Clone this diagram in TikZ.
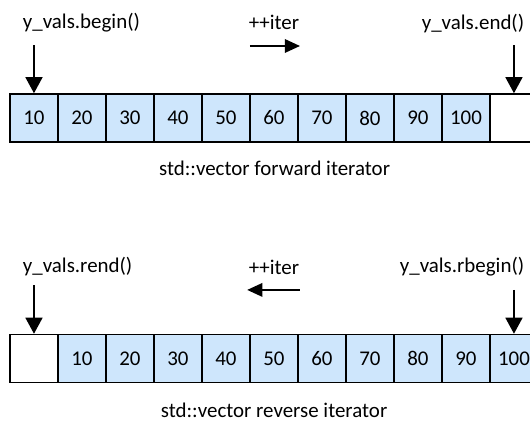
\documentclass[tikz,border=0pt]{standalone}
\usepackage{fontspec}
\setmainfont{Carlito}
\usetikzlibrary{arrows.meta}
\definecolor{cellblue}{RGB}{206,230,252}
\begin{document}
\begin{tikzpicture}[->,>={Triangle[width=10pt,length=9.5pt]},line width=1.1pt,
    font=\fontsize{12.4}{15}\selectfont,
    cell/.style={draw,fill=cellblue,minimum size=1cm,inner sep=0pt,line width=0.9pt},
    hole/.style={cell,fill=white},
    txt/.style={inner sep=0pt},
    inc/.style={-{Triangle[width=8pt,length=9pt]}}]
      \clip (0,0) rectangle (11.042,-8.771);
      % forward
      \node[cell] (f0) at (0.708,-2.458) {10};
      \node[cell] (f1) at (1.708,-2.458) {20};
      \node[cell] (f2) at (2.708,-2.458) {30};
      \node[cell] (f3) at (3.708,-2.458) {40};
      \node[cell] (f4) at (4.708,-2.458) {50};
      \node[cell] (f5) at (5.708,-2.458) {60};
      \node[cell] (f6) at (6.708,-2.458) {70};
      \node[cell] (f7) at (7.708,-2.458) {80};
      \node[cell] (f8) at (8.708,-2.458) {90};
      \node[cell] (f9) at (9.708,-2.458) {100};
      \node[hole] (f10) at (10.708,-2.458) {};
      \node[txt,anchor=west] (begin) at (0.458,-0.48) {y\_vals.begin()};
      \node[txt] (fwdinc) at (5.708,-0.46) {++iter};
      \node[txt,anchor=east] (end) at (10.94,-0.48) {y\_vals.end()};
      \node[txt] (fwdcap) at (5.72,-3.5) {std::vector forward iterator};
      \coordinate (pb) at (0.708,-0.938);
      \coordinate (pe) at (10.708,-0.938);
      \coordinate (fa) at (5.208,-0.958);
      \coordinate (fb) at (6.25,-0.958);
      \draw (pb) -- (f0);
      \draw (pe) -- (f10);
      \draw[inc] (fa) -- (fb);
      % reverse
      \node[hole] (r0) at (0.708,-7.469) {};
      \node[cell] (r1) at (1.708,-7.469) {10};
      \node[cell] (r2) at (2.708,-7.469) {20};
      \node[cell] (r3) at (3.708,-7.469) {30};
      \node[cell] (r4) at (4.708,-7.469) {40};
      \node[cell] (r5) at (5.708,-7.469) {50};
      \node[cell] (r6) at (6.708,-7.469) {60};
      \node[cell] (r7) at (7.708,-7.469) {70};
      \node[cell] (r8) at (8.708,-7.469) {80};
      \node[cell] (r9) at (9.708,-7.469) {90};
      \node[cell] (r10) at (10.708,-7.469) {100};
      \node[txt,anchor=west] (rend) at (0.458,-5.56) {y\_vals.rend()};
      \node[txt] (revinc) at (5.708,-5.56) {++iter};
      \node[txt,anchor=east] (rbegin) at (10.94,-5.56) {y\_vals.rbegin()};
      \node[txt] (revcap) at (5.71,-8.55) {std::vector reverse iterator};
      \coordinate (pr) at (0.708,-5.94);
      \coordinate (prb) at (10.708,-6.04);
      \coordinate (ra) at (6.25,-6.04);
      \coordinate (rb) at (5.15,-6.04);
      \draw (pr) -- (r0);
      \draw (prb) -- (r10);
      \draw[inc] (ra) -- (rb);
    \end{tikzpicture}
\end{document}
